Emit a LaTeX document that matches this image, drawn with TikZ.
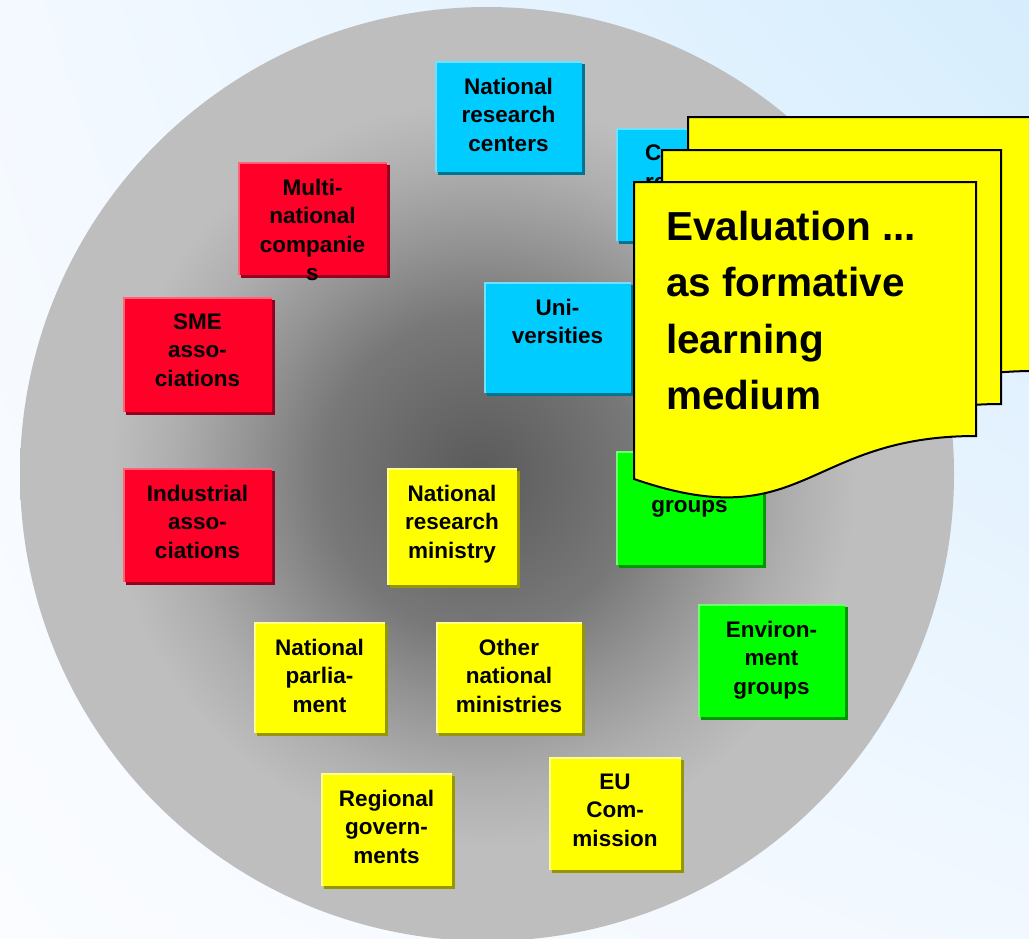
\documentclass[tikz,border=0pt]{standalone}
\usepackage{fontspec}
\setmainfont{Liberation Sans}
\usetikzlibrary{shadows,shadings}
\definecolor{bgTR}{RGB}{214,237,253}
\definecolor{bgTL}{RGB}{244,249,255}
\definecolor{bgBL}{RGB}{250,252,255}
\definecolor{bgBR}{RGB}{242,248,255}
\definecolor{gA}{RGB}{90,90,90}
\definecolor{gB}{RGB}{120,120,120}
\definecolor{gC}{RGB}{148,148,148}
\definecolor{gD}{RGB}{174,174,174}
\definecolor{gE}{RGB}{190,190,190}
\definecolor{bxred}{RGB}{255,0,40}
\definecolor{bxredL}{RGB}{255,100,120}
\definecolor{bxredD}{RGB}{150,0,30}
\definecolor{bxcyan}{RGB}{0,204,255}
\definecolor{bxcyanL}{RGB}{110,225,255}
\definecolor{bxcyanD}{RGB}{0,115,145}
\definecolor{bxyel}{RGB}{255,255,0}
\definecolor{bxyelL}{RGB}{255,255,140}
\definecolor{bxyelD}{RGB}{150,150,0}
\definecolor{bxgrn}{RGB}{0,255,0}
\definecolor{bxgrnL}{RGB}{110,255,110}
\definecolor{bxgrnD}{RGB}{0,150,0}
\pgfdeclareradialshading{discshade}{\pgfpoint{-0.4bp}{0bp}}{color(0bp)=(gA); color(8.5bp)=(gB); color(12.5bp)=(gC); color(16.5bp)=(gD); color(20bp)=(gE); color(50bp)=(gE)}
\tikzset{
  sbox/.style n args={3}{draw=none, fill=#1, minimum width=#2, minimum height=#3,
    inner sep=0pt, outer sep=0pt, anchor=north west,
    drop shadow={shadow xshift=3pt, shadow yshift=-3pt, fill=#1D, opacity=1},
    path picture={\draw[#1L, line width=4.5pt] (path picture bounding box.south west) -- (path picture bounding box.north west) -- (path picture bounding box.north east);}},
  lbl/.style={font=\fontsize{22.5}{28.5}\selectfont\bfseries, align=center, inner sep=0pt, anchor=north},
  doc/.style={draw=black, line width=2pt, fill=bxyel, line join=miter},
  doctext/.style={font=\fontsize{40.5}{56.5}\selectfont\bfseries, align=left, inner sep=0pt, anchor=north west}
}
\begin{document}
\begin{tikzpicture}[x=1pt,y=-1pt]
\useasboundingbox (0,0) rectangle (1029,938);
\shade[upper left=bgTL, upper right=bgTR, lower left=bgBL, lower right=bgBR] (0,0) rectangle (1029,938);
\shade[shading=discshade] (487,474) circle (467);

% boxes
\node[sbox={bxcyan}{147pt}{111pt}] (nrc) at (435,61) {};
\node[lbl] (nrct) at ([yshift=-16.5pt]nrc.north) {National\\research\\centers};
\node[sbox={bxcyan}{147pt}{113pt}] (crc) at (616,128) {};
\node[lbl, anchor=north west, align=left] (crct) at (645,145) {C\\re};
\node[sbox={bxred}{149pt}{113pt}] (mnc) at (238,162) {};
\node[lbl] (mnct) at ([yshift=-16.5pt]mnc.north) {Multi-\\national\\companie\\s};
\node[sbox={bxred}{149pt}{115pt}] (sme) at (123,297) {};
\node[lbl] (smet) at ([yshift=-16.5pt]sme.north) {SME\\asso-\\ciations};
\node[sbox={bxcyan}{147pt}{111pt}] (uni) at (484,282) {};
\node[lbl] (unit) at ([yshift=-16.5pt]uni.north) {Uni-\\versities};
\node[sbox={bxred}{149pt}{114pt}] (ind) at (123,468) {};
\node[lbl] (indt) at ([yshift=-16.5pt]ind.north) {Industrial\\asso-\\ciations};
\node[sbox={bxyel}{130pt}{117pt}] (nrm) at (387,468) {};
\node[lbl] (nrmt) at ([yshift=-16.5pt]nrm.north) {National\\research\\ministry};
\node[sbox={bxgrn}{147pt}{114pt}] (grp) at (616,451) {};
\node[lbl] (grpt) at ([yshift=-49pt]grp.north) {groups};
\node[sbox={bxyel}{131pt}{111pt}] (np) at (254,622) {};
\node[lbl] (npt) at ([yshift=-16.5pt]np.north) {National\\parlia-\\ment};
\node[sbox={bxyel}{146pt}{111pt}] (onm) at (436,622) {};
\node[lbl] (onmt) at ([yshift=-16.5pt]onm.north) {Other\\national\\ministries};
\node[sbox={bxgrn}{147pt}{113pt}] (env) at (698,604) {};
\node[lbl] (envt) at ([yshift=-16.5pt]env.north) {Environ-\\ment\\groups};
\node[sbox={bxyel}{131pt}{113pt}] (rg) at (321,773) {};
\node[lbl] (rgt) at ([yshift=-16.5pt]rg.north) {Regional\\govern-\\ments};
\node[sbox={bxyel}{132pt}{113pt}] (eu) at (549,757) {};
\node[lbl] (eut) at ([yshift=-16.5pt]eu.north) {EU\\Com-\\mission};

% stacked documents
\draw[doc] (688,117) -- (1034,117) -- (1034,371) .. controls (861,371) and (861,471) .. (688,413) -- cycle;
\draw[doc] (662,150) -- (1001,150) -- (1001,404) .. controls (831,404) and (831,506) .. (662,446) -- cycle;
\draw[doc] (634,182) -- (976,182) -- (976,436) .. controls (805,436) and (805,538) .. (634,479) -- cycle;
\node[doctext] (evt) at (666,210.5) {Evaluation ...\\as formative\\learning\\medium};
\end{tikzpicture}
\end{document}
